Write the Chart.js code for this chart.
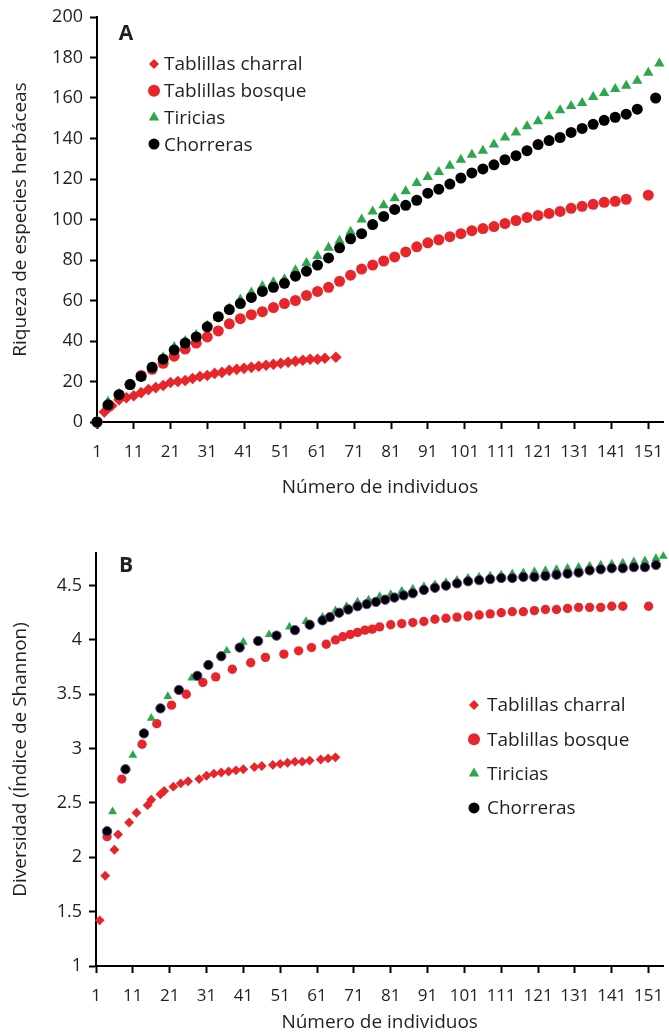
<!DOCTYPE html>
<html>
<head>
<meta charset="utf-8">
<script src="https://cdn.jsdelivr.net/npm/chart.js@4.4.0/dist/chart.umd.min.js"></script>
<style>
  body { margin: 0; background: #fff; }
  .panel { position: relative; width: 669px; }
</style>
</head>
<body>
<div class="panel" style="height:520px"><canvas id="chartA"></canvas></div>
<div class="panel" style="height:514px"><canvas id="chartB"></canvas></div>
<script>
const seriesNames = ['Tablillas charral', 'Tablillas bosque', 'Tiricias', 'Chorreras'];
const xTicks = [1, 11, 21, 31, 41, 51, 61, 71, 81, 91, 101, 111, 121, 131, 141, 151];
const yTicksA = [0, 20, 40, 60, 80, 100, 120, 140, 160, 180, 200];
const yTicksB = [1, 1.5, 2, 2.5, 3, 3.5, 4, 4.5];

// A: riqueza
const charralA_x = [1, 3, 5, 7, 9, 11, 13, 15, 17, 19, 21, 23, 25, 27, 29, 31, 33, 35, 37, 39, 41, 43, 45, 47, 49, 51, 53, 55, 57, 59, 61, 63, 66];
const charralA_y = [0, 5, 8, 11, 12, 13, 14.5, 16, 17, 18, 19.5, 20, 20.5, 21.5, 22.5, 23, 24, 24.5, 25.5, 26, 26.5, 27, 27.5, 28, 28.5, 29, 29.5, 30, 30.5, 31, 31, 31.5, 32];
const bosqueA_x = [1, 4, 7, 10, 13, 16, 19, 22, 25, 28, 31, 34, 37, 40, 43, 46, 49, 52, 55, 58, 61, 64, 67, 70, 73, 76, 79, 82, 85, 88, 91, 94, 97, 100, 103, 106, 109, 112, 115, 118, 121, 124, 127, 130, 133, 136, 139, 142, 145, 151];
const bosqueA_y = [0, 7.5, 13.5, 18.5, 23, 26, 29, 32.5, 36, 39, 42, 45, 48.5, 51, 53, 54.5, 56.5, 58.5, 60, 62.5, 64.5, 66.5, 69.5, 72.5, 75.5, 77.5, 79.5, 81.5, 84, 86.5, 88.5, 90, 91.5, 93, 94.5, 95.5, 96.5, 98, 99.5, 101, 102, 103, 104, 105.5, 106.5, 107.5, 108.5, 109, 110, 112];
const tiriciasA_x = [1, 4, 7, 10, 13, 16, 19, 22, 25, 28, 31, 34, 37, 40, 43, 46, 49, 52, 55, 58, 61, 64, 67, 70, 73, 76, 79, 82, 85, 88, 91, 94, 97, 100, 103, 106, 109, 112, 115, 118, 121, 124, 127, 130, 133, 136, 139, 142, 145, 148, 151, 154];
const tiriciasA_y = [0, 10, 14, 18, 22, 26, 32, 37, 40, 43, 47.5, 51.5, 56, 60.5, 64, 67, 69, 70.5, 75, 78.5, 82, 86, 89.5, 94, 100, 104, 107, 110.5, 114, 118, 121, 123.5, 126.5, 129.5, 132, 134, 137, 140.5, 143, 146, 148.5, 151, 154, 156, 157.5, 160.5, 162.5, 164.5, 166, 168.5, 172.5, 177];
const chorrerasA_x = [1, 4, 7, 10, 13, 16, 19, 22, 25, 28, 31, 34, 37, 40, 43, 46, 49, 52, 55, 58, 61, 64, 67, 70, 73, 76, 79, 82, 85, 88, 91, 94, 97, 100, 103, 106, 109, 112, 115, 118, 121, 124, 127, 130, 133, 136, 139, 142, 145, 148, 153];
const chorrerasA_y = [0, 8.5, 13.5, 18.5, 22.5, 27, 31, 35.5, 39, 42, 47, 52, 55.5, 58.5, 61.5, 64.5, 66.5, 68.5, 72, 74.5, 77.5, 81, 86, 90.5, 93, 97.5, 101.5, 105, 107, 109.5, 113, 115, 117.5, 120.5, 123, 125, 127, 129.5, 131.5, 134, 137, 139, 140.5, 143, 145, 147, 149, 150.5, 152, 154.5, 160];

// B: Shannon
const charralB_x = [2, 3.5, 6, 7, 10, 12, 15, 16, 18.5, 19.5, 22, 24, 26, 29, 31, 33, 35, 37, 39, 41, 44, 46, 49, 51, 53, 55, 57, 59, 62, 64, 66];
const charralB_y = [1.42, 1.83, 2.07, 2.21, 2.32, 2.41, 2.48, 2.53, 2.58, 2.61, 2.65, 2.68, 2.70, 2.72, 2.75, 2.77, 2.78, 2.79, 2.80, 2.81, 2.83, 2.84, 2.85, 2.86, 2.87, 2.88, 2.88, 2.89, 2.90, 2.91, 2.92];
const bosqueB_x = [4, 8, 13.5, 17.5, 21.5, 25.5, 30, 33.5, 38, 43, 47, 52, 56, 59.5, 63.5, 66, 68, 70, 72, 74, 76, 78, 81, 84, 87, 90, 93, 96, 99, 102, 105, 108, 111, 114, 117, 120, 123, 126, 129, 132, 135, 138, 141, 144, 151];
const bosqueB_y = [2.19, 2.72, 3.04, 3.23, 3.40, 3.50, 3.61, 3.66, 3.73, 3.79, 3.84, 3.87, 3.90, 3.93, 3.96, 4.00, 4.03, 4.05, 4.07, 4.09, 4.10, 4.12, 4.14, 4.15, 4.16, 4.17, 4.19, 4.20, 4.21, 4.22, 4.23, 4.24, 4.25, 4.26, 4.26, 4.27, 4.28, 4.28, 4.29, 4.30, 4.30, 4.30, 4.31, 4.31, 4.31];
const tiriciasB_x = [5.5, 11, 16, 20.5, 27, 36.5, 41, 48, 53.5, 58, 62.5, 66, 69, 72, 75, 78, 81, 84, 87, 90, 93, 96, 99, 102, 105, 108, 111, 114, 117, 120, 123, 126, 129, 132, 135, 138, 141, 144, 147, 150, 153, 155];
const tiriciasB_y = [2.42, 2.94, 3.28, 3.48, 3.65, 3.90, 3.98, 4.05, 4.12, 4.17, 4.21, 4.27, 4.31, 4.35, 4.37, 4.40, 4.42, 4.45, 4.47, 4.49, 4.51, 4.53, 4.55, 4.57, 4.58, 4.59, 4.60, 4.61, 4.62, 4.63, 4.64, 4.65, 4.66, 4.67, 4.68, 4.69, 4.70, 4.71, 4.72, 4.73, 4.75, 4.77];
const chorrerasB_x = [4, 9, 14, 18.5, 23.5, 28.5, 31.5, 35, 40, 45, 50, 55, 59, 62.5, 64.5, 67, 69.5, 72, 74.5, 77, 79.5, 82, 84.5, 87, 90, 93, 96, 99, 102, 105, 108, 111, 114, 117, 120, 123, 126, 129, 132, 135, 138, 141, 144, 147, 150, 153];
const chorrerasB_y = [2.24, 2.81, 3.14, 3.37, 3.54, 3.67, 3.77, 3.85, 3.93, 3.99, 4.04, 4.09, 4.14, 4.18, 4.21, 4.25, 4.28, 4.31, 4.33, 4.35, 4.37, 4.39, 4.41, 4.43, 4.46, 4.48, 4.50, 4.52, 4.54, 4.55, 4.56, 4.57, 4.57, 4.58, 4.58, 4.59, 4.60, 4.61, 4.62, 4.64, 4.65, 4.66, 4.66, 4.67, 4.67, 4.69];

const RED = '#e6262b';
const GREEN = '#2da64c';
const TEXT = '#231f20';

Chart.defaults.font.family = '"Open Sans", sans-serif';
Chart.defaults.color = TEXT;

function pts(xs, ys) {
  return xs.map((x, i) => ({ x: x, y: ys[i] }));
}

function makeSets(cx, cy, bx, by, tx, ty, hx, hy, small) {
  const k = small ? 0.85 : 1;
  return [
    { label: seriesNames[0], data: pts(cx, cy), pointStyle: 'rectRot', pointRadius: 5.8 * k,
      backgroundColor: RED, borderColor: RED, borderWidth: 0, order: 3, legendRadius: 5 },
    { label: seriesNames[1], data: pts(bx, by), pointStyle: 'circle', pointRadius: 5.5 * k,
      backgroundColor: RED, borderColor: RED, borderWidth: 0, order: 2, legendRadius: 6 },
    { label: seriesNames[2], data: pts(tx, ty), pointStyle: 'triangle', pointRadius: 6 * k,
      backgroundColor: GREEN, borderColor: GREEN, borderWidth: 0, order: 1, legendRadius: 6 },
    { label: seriesNames[3], data: pts(hx, hy), pointStyle: 'circle', pointRadius: 5.5 * k,
      backgroundColor: '#000', borderColor: small ? '#5d4391' : '#000', borderWidth: small ? 1 : 0,
      order: 0, legendRadius: 5.5 }
  ];
}

function decor(letter, lx, ly, legX, legY, gap, textOff) {
  return {
    id: 'decor',
    afterDraw(chart) {
      const ctx = chart.ctx;
      ctx.save();
      ctx.fillStyle = TEXT;
      ctx.font = 'bold 21px "Open Sans"';
      ctx.textAlign = 'center';
      ctx.textBaseline = 'middle';
      ctx.fillText(letter, lx, ly);
      ctx.font = '19px "Open Sans"';
      ctx.textAlign = 'left';
      chart.data.datasets.forEach((ds, i) => {
        const y = legY + i * gap;
        ctx.fillStyle = ds.backgroundColor;
        ctx.strokeStyle = ds.borderColor;
        ctx.lineWidth = 1;
        Chart.helpers.drawPoint(ctx, { pointStyle: ds.pointStyle, radius: ds.legendRadius, rotation: 0, borderWidth: 0 }, legX, y);
        ctx.fillStyle = TEXT;
        ctx.fillText(ds.label, legX + textOff, y + 1);
      });
      ctx.restore();
    }
  };
}

function makeOptions(yMin, yMax, yTicks, yTitle, padTop, yWidth, xHeight, xTitlePad) {
  return {
    responsive: true,
    maintainAspectRatio: false,
    animation: false,
    layout: { padding: { top: padTop, right: 0, bottom: 0, left: 0 } },
    plugins: { legend: { display: false }, tooltip: { enabled: false } },
    datasets: { scatter: { clip: false } },
    scales: {
      x: {
        type: 'linear', min: 1, max: 155,
        afterBuildTicks: s => { s.ticks = xTicks.map(v => ({ value: v })); },
        afterFit: s => { s.height = xHeight; s.paddingLeft = 0; s.paddingRight = 0; },
        ticks: { autoSkip: false, maxRotation: 0, padding: 13, font: { size: 17 }, callback: v => String(v) },
        grid: { drawOnChartArea: false, drawTicks: true, tickLength: 7, tickColor: '#000', tickWidth: 2 },
        border: { color: '#000', width: 2 },
        title: { display: true, text: 'Número de individuos', font: { size: 19 }, padding: { top: 0, bottom: xTitlePad } }
      },
      y: {
        type: 'linear', min: yMin, max: yMax,
        afterBuildTicks: s => { s.ticks = yTicks.map(v => ({ value: v })); },
        afterFit: s => { s.width = yWidth; s.paddingTop = 0; s.paddingBottom = 0; },
        ticks: { autoSkip: false, padding: 7, font: { size: 18 }, callback: v => String(v) },
        grid: { drawOnChartArea: false, drawTicks: true, tickLength: 7, tickColor: '#000', tickWidth: 2 },
        border: { color: '#000', width: 2 },
        title: { display: true, text: yTitle, font: { size: 19 }, padding: { top: 9, bottom: 0 } }
      }
    }
  };
}

new Chart(document.getElementById('chartA'), {
  type: 'scatter',
  data: { datasets: makeSets(charralA_x, charralA_y, bosqueA_x, bosqueA_y, tiriciasA_x, tiriciasA_y, chorrerasA_x, chorrerasA_y, false) },
  options: makeOptions(0, 200, yTicksA, 'Riqueza de especies herbáceas', 17, 97, 98, 21),
  plugins: [decor('A', 126, 34, 154, 64, 26.7, 10)]
});

new Chart(document.getElementById('chartB'), {
  type: 'scatter',
  data: { datasets: makeSets(charralB_x, charralB_y, bosqueB_x, bosqueB_y, tiriciasB_x, tiriciasB_y, chorrerasB_x, chorrerasB_y, true) },
  options: makeOptions(1, 4.8, yTicksB, 'Diversidad (Índice de Shannon)', 33, 96, 68, 0),
  plugins: [decor('B', 126, 46, 474, 185, 34.3, 13)]
});
</script>
</body>
</html>
